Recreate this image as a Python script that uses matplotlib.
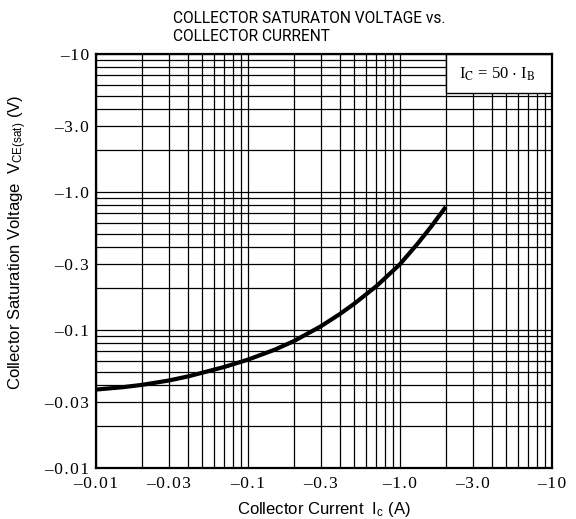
import matplotlib
matplotlib.use('Agg')
import matplotlib.pyplot as plt
import matplotlib.transforms as mtransforms
from matplotlib.patches import Rectangle
from matplotlib.ticker import FixedLocator, NullFormatter

plt.rcParams['mathtext.fontset'] = 'custom'
plt.rcParams['mathtext.rm'] = 'Liberation Sans'
plt.rcParams['mathtext.it'] = 'Liberation Sans'

# collector current (A) and saturation voltage (V), magnitudes
ic = [0.01, 0.015, 0.02, 0.03, 0.04, 0.05, 0.07, 0.1, 0.15, 0.2, 0.3, 0.4,
      0.5, 0.7, 1.0, 1.3, 1.6, 2.0]
vce = [0.037, 0.0385, 0.040, 0.043, 0.046, 0.049, 0.054, 0.061, 0.072, 0.083,
       0.106, 0.130, 0.155, 0.208, 0.300, 0.42, 0.56, 0.78]

x_ticks = [0.01, 0.03, 0.1, 0.3, 1.0, 3.0, 10]
x_labels = ['–0.01', '–0.03', '–0.1', '–0.3', '–1.0', '–3.0', '–10']
y_ticks = [0.01, 0.03, 0.1, 0.3, 1.0, 3.0, 10]
y_labels = ['–0.01', '–0.03', '–0.1', '–0.3', '–1.0', '–3.0', '–10']

def spaced(s):
    return '\u200a'.join(s)

grid_vals = [m * 10.0 ** e for e in range(-2, 1) for m in range(1, 10)] + [10]

fig = plt.figure(figsize=(5.76, 5.19), dpi=100)
ax = fig.add_axes([0.1667, 0.0983, 0.7917, 0.7977])
ax.set_xscale('log')
ax.set_yscale('log')
ax.set_xlim(0.01, 10)
ax.set_ylim(0.01, 10)

for g in grid_vals:
    ax.axvline(g, color='black', lw=0.9, zorder=1)
    ax.axhline(g, color='black', lw=0.9, zorder=1)

# condition box in the upper right corner
ax.add_patch(Rectangle((2.0, 5.2), 8.0, 4.8, facecolor='white',
                       edgecolor='black', lw=1.0, zorder=2))
ax.text(0.879, 0.952, r'I$_\mathrm{C}$ = 50 $\cdot$ I$_\mathrm{B}$',
        transform=ax.transAxes, ha='center', va='center', fontsize=12,
        family='Liberation Serif', math_fontfamily='stix', zorder=3)

ax.plot(ic, vce, color='black', lw=3.0, solid_capstyle='butt', zorder=4)

ax.xaxis.set_major_locator(FixedLocator(x_ticks))
ax.yaxis.set_major_locator(FixedLocator(y_ticks))
ax.xaxis.set_minor_formatter(NullFormatter())
ax.yaxis.set_minor_formatter(NullFormatter())
ax.set_xticklabels([spaced(s) for s in x_labels])
ax.set_yticklabels([spaced(s) for s in y_labels])
shift = mtransforms.ScaledTranslation(-4 / 72, 0, fig.dpi_scale_trans)
for lab in ax.get_xticklabels():
    lab.set_transform(lab.get_transform() + shift)
for lab in ax.get_xticklabels() + ax.get_yticklabels():
    lab.set_family(['Liberation Serif', 'DejaVu Serif'])
    lab.set_fontsize(12.5)
ax.tick_params(which='both', length=0)
ax.tick_params(axis='x', pad=6)
ax.tick_params(axis='y', pad=5)
for sp in ax.spines.values():
    sp.set_linewidth(1.6)

ax.set_xlabel(r'Collector Current  I$_\mathrm{c}$ (A)', family='Liberation Sans',
              fontsize=12)
ax.set_ylabel(r'Collector Saturation Voltage  V$_\mathrm{CE(sat)}$ (V)',
              family='Liberation Sans', fontsize=12)
ax.xaxis.set_label_coords(0.5, -0.077)
ax.yaxis.set_label_coords(-0.147, 0.546)

fig.text(0.300, 0.965, 'COLLECTOR SATURATON VOLTAGE vs.', family='Roboto',
         fontsize=11.2, ha='left', va='center')
fig.text(0.300, 0.930, 'COLLECTOR CURRENT', family='Roboto',
         fontsize=11.2, ha='left', va='center')

fig.savefig('out.png', dpi=100)
